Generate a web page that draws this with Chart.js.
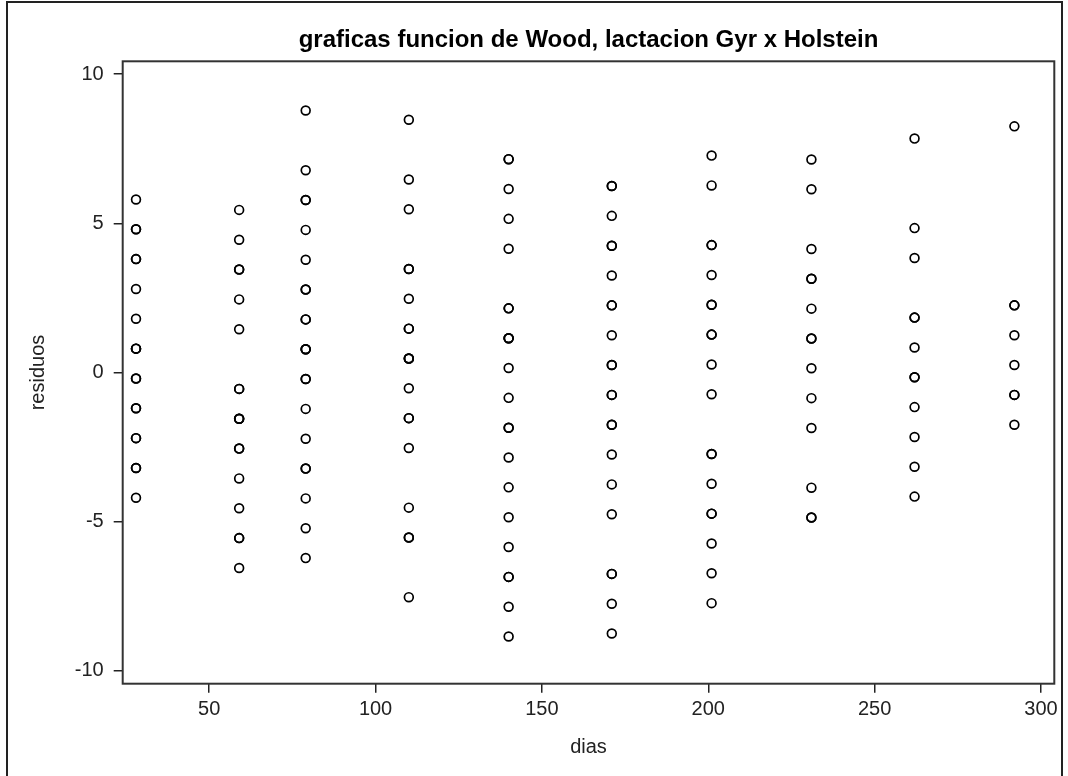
<!DOCTYPE html>
<html>
<head>
<meta charset="utf-8">
<title>graficas funcion de Wood</title>
<script src="https://cdn.jsdelivr.net/npm/chart.js@4.4.1/dist/chart.umd.min.js"></script>
<style>
  html, body { margin: 0; padding: 0; background: #fff; overflow: hidden; }
  #wrap { position: relative; width: 1068px; height: 776px; }
  #frame { position: absolute; left: 6px; top: 1px; width: 1057px; height: 820px; border: 2px solid #222; box-sizing: border-box; }
  canvas { position: absolute; left: 0; top: 0; }
</style>
</head>
<body>
<div id="wrap">
  <div id="frame"></div>
  <canvas id="chart" width="1068" height="776"></canvas>
</div>
<script>
// Dias de lactacion en que se tomaron los controles
const dias = [28, 59, 79, 110, 140, 171, 201, 231, 262, 292];

// Residuos del ajuste de la funcion de Wood en cada control
// (los valores repetidos se superponen en el grafico)
const residuosDia28  = [5.8, 4.8, 4.8, 3.8, 3.8, 2.8, 1.8, 0.8, 0.8, 0.8, -0.2, -0.2, -1.2, -1.2, -2.2, -2.2, -3.2, -3.2, -4.2];
const residuosDia59  = [5.45, 4.45, 3.45, 3.45, 2.45, 1.45, -0.55, -0.55, -1.55, -1.55, -1.55, -2.55, -2.55, -3.55, -4.55, -5.55, -5.55, -6.55];
const residuosDia79  = [8.78, 6.78, 5.78, 5.78, 4.78, 3.78, 2.78, 2.78, 1.78, 1.78, 0.78, 0.78, 0.78, -0.22, -0.22, -1.22, -2.22, -3.22, -3.22, -4.22, -5.22, -6.22];
const residuosDia110 = [8.47, 6.47, 5.47, 3.47, 3.47, 2.47, 1.47, 1.47, 0.47, 0.47, 0.47, -0.53, -1.53, -1.53, -2.53, -4.53, -5.53, -5.53, -7.53];
const residuosDia140 = [7.15, 7.15, 6.15, 5.15, 4.15, 2.15, 2.15, 1.15, 1.15, 1.15, 0.15, -0.85, -1.85, -1.85, -2.85, -3.85, -4.85, -5.85, -6.85, -6.85, -7.85, -8.85];
const residuosDia171 = [6.25, 6.25, 5.25, 4.25, 4.25, 3.25, 2.25, 2.25, 1.25, 0.25, 0.25, -0.75, -0.75, -1.75, -1.75, -2.75, -3.75, -4.75, -6.75, -6.75, -7.75, -8.75];
const residuosDia201 = [7.27, 6.27, 4.27, 4.27, 3.27, 2.27, 2.27, 1.27, 1.27, 0.27, -0.73, -2.73, -2.73, -3.73, -4.73, -4.73, -5.73, -6.73, -7.73];
const residuosDia231 = [7.14, 6.14, 4.14, 3.14, 3.14, 2.14, 1.14, 1.14, 0.14, -0.86, -1.86, -3.86, -4.86, -4.86];
const residuosDia262 = [7.84, 4.84, 3.84, 1.84, 1.84, 0.84, -0.16, -0.16, -1.16, -2.16, -3.16, -4.16];
const residuosDia292 = [8.25, 2.25, 2.25, 1.25, 0.25, -0.75, -0.75, -1.75];

const residuosPorDia = [
  residuosDia28, residuosDia59, residuosDia79, residuosDia110, residuosDia140,
  residuosDia171, residuosDia201, residuosDia231, residuosDia262, residuosDia292
];

const tituloGrafico = 'graficas funcion de Wood, lactacion Gyr x Holstein';

// Pares (dia, residuo) para el diagrama de dispersion
const puntos = [];
dias.forEach((d, i) => {
  residuosPorDia[i].forEach(r => puntos.push({ x: d, y: r }));
});

// Marco completo alrededor del area de trazado y titulo centrado sobre ella
const marcoArea = {
  id: 'marcoArea',
  afterDraw(chart) {
    const { ctx, chartArea: a } = chart;
    ctx.save();
    ctx.strokeStyle = '#333';
    ctx.lineWidth = 2;
    ctx.strokeRect(a.left, a.top, a.right - a.left, a.bottom - a.top);
    ctx.fillStyle = '#000';
    ctx.font = 'bold 24px "Liberation Sans", Arial, sans-serif';
    ctx.textAlign = 'center';
    ctx.textBaseline = 'middle';
    ctx.fillText(tituloGrafico, (a.left + a.right) / 2, 40);
    ctx.restore();
  }
};

const fuenteEjes = { family: 'Liberation Sans, Arial, sans-serif', size: 20 };

new Chart(document.getElementById('chart'), {
  type: 'scatter',
  data: {
    datasets: [{
      label: 'residuos',
      data: puntos,
      pointStyle: 'circle',
      pointRadius: 4.4,
      pointHoverRadius: 4.4,
      borderWidth: 1.7,
      borderColor: '#000',
      backgroundColor: 'rgba(0,0,0,0)'
    }]
  },
  options: {
    responsive: false,
    animation: false,
    devicePixelRatio: 1,
    layout: { padding: { left: 0, right: 13.7, top: 61.3, bottom: 0 } },
    plugins: {
      legend: { display: false },
      tooltip: { enabled: false },
      title: { display: false }
    },
    scales: {
      x: {
        type: 'linear',
        position: 'bottom',
        min: 24,
        max: 304,
        afterFit(scale) { scale.height = 92.3; },
        ticks: { stepSize: 50, includeBounds: false, color: '#222', font: fuenteEjes, padding: 5, maxRotation: 0 },
        grid: { drawOnChartArea: false, drawTicks: true, tickLength: 9, color: '#222', lineWidth: 1.5 },
        border: { display: false },
        title: { display: true, text: 'dias', color: '#222', font: fuenteEjes, padding: { top: 0, bottom: 17 } }
      },
      y: {
        type: 'linear',
        position: 'left',
        min: -10.43,
        max: 10.43,
        afterFit(scale) { scale.width = 122.7; },
        ticks: { stepSize: 5, includeBounds: false, color: '#222', font: fuenteEjes, padding: 10 },
        grid: { drawOnChartArea: false, drawTicks: true, tickLength: 9, color: '#222', lineWidth: 1.5 },
        border: { display: false },
        title: { display: true, text: 'residuos', color: '#222', font: fuenteEjes, padding: { top: 26, bottom: 0 } }
      }
    }
  },
  plugins: [marcoArea]
});
</script>
</body>
</html>
